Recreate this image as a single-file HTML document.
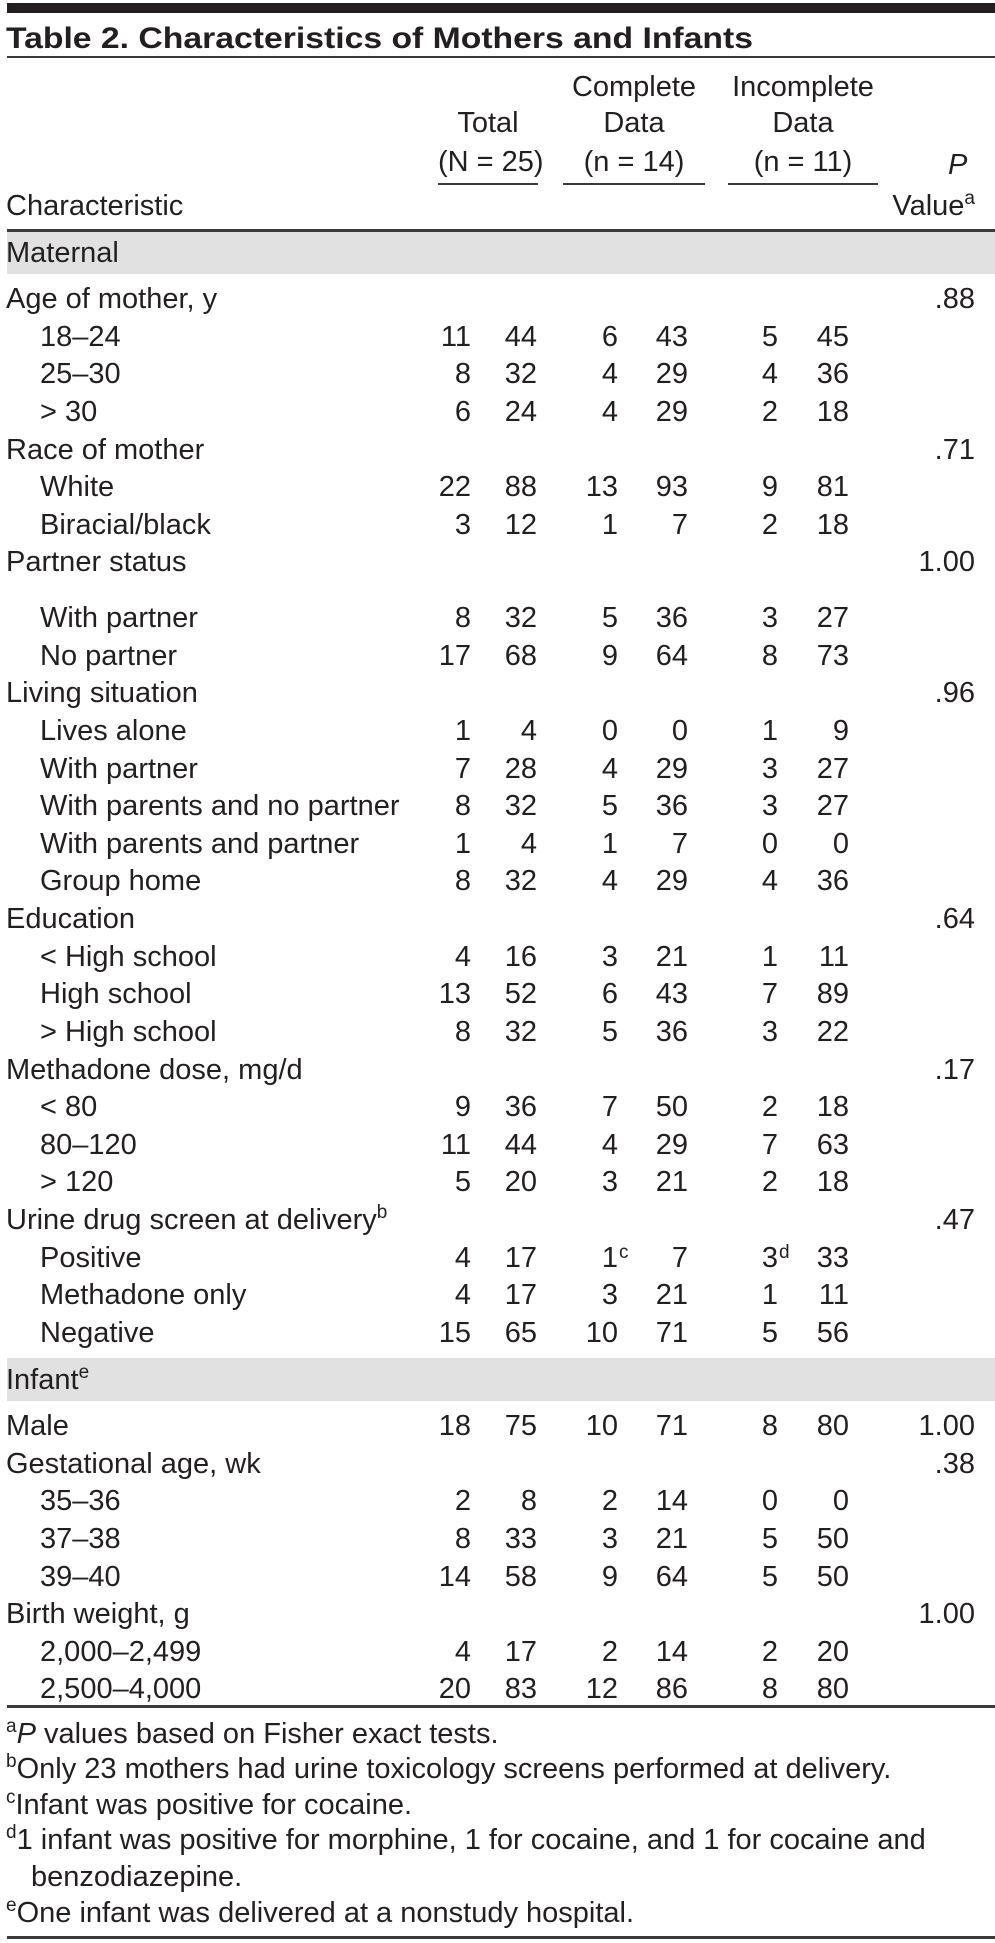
<!DOCTYPE html>
<html><head><meta charset="utf-8">
<style>
html,body{margin:0;padding:0;background:#fff;}
#page{position:relative;width:995px;height:1943px;overflow:hidden;background:#fff;font-family:"Liberation Sans",sans-serif;color:#231f20;}
.t{position:absolute;font-size:29px;line-height:30px;white-space:nowrap;}
.r{text-align:right;}
.c{text-align:center;}
.sup{font-size:19px;position:relative;top:-11px;}
.abssup{position:absolute;font-size:19px;line-height:19px;}
.rule{position:absolute;left:7px;width:988px;background:#3a3a3a;}
.band{position:absolute;left:7px;width:988px;background:#e1e1e1;}
</style></head>
<body>
<div id="page">
  <div class="rule" style="top:3px;height:10px;background:#231f20"></div>
  <div class="t" id="title" style="left:6px;top:22px;font-size:30px;line-height:34px;font-weight:bold;transform-origin:0 50%">Table 2. Characteristics of Mothers and Infants</div>
  <div class="rule" style="top:56px;height:2px"></div>

  <div class="t c" style="left:563px;width:142px;top:72px">Complete</div>
  <div class="t c" style="left:728px;width:150px;top:72px">Incomplete</div>
  <div class="t c" style="left:438px;width:100px;top:108px">Total</div>
  <div class="t c" style="left:563px;width:142px;top:108px">Data</div>
  <div class="t c" style="left:728px;width:150px;top:108px">Data</div>
  <div class="t c" style="left:438px;width:100px;top:147px">(N = 25)</div>
  <div class="t c" style="left:563px;width:142px;top:147px">(n = 14)</div>
  <div class="t c" style="left:728px;width:150px;top:147px">(n = 11)</div>
  <div class="t" style="left:948px;top:150px;font-style:italic">P</div>
  <div class="rule" style="left:438px;width:100px;top:183px;height:2px"></div>
  <div class="rule" style="left:563px;width:142px;top:183px;height:2px"></div>
  <div class="rule" style="left:728px;width:150px;top:183px;height:2px"></div>
  <div class="t" style="left:6px;top:191px">Characteristic</div>
  <div class="t r" style="left:0;width:975px;top:191px">Value<span class="sup">a</span></div>
  <div class="rule" style="top:229px;height:3px"></div>

  <div class="band" style="top:232px;height:42px"></div>
  <div class="band" style="top:1358px;height:43px"></div>
  <div class="t" style="left:6px;top:238px">Maternal</div>
  <div class="t" style="left:6px;top:1365px">Infant<span class="sup">e</span></div>

  <div id="rows"></div>

  <div class="rule" style="top:1705px;height:3px"></div>
  <div class="t" style="left:6px;top:1719px"><span class="sup">a</span><i>P</i> values based on Fisher exact tests.</div>
  <div class="t" style="left:6px;top:1754px"><span class="sup">b</span>Only 23 mothers had urine toxicology screens performed at delivery.</div>
  <div class="t" style="left:6px;top:1790px"><span class="sup">c</span>Infant was positive for cocaine.</div>
  <div class="t" style="left:6px;top:1825px"><span class="sup">d</span>1 infant was positive for morphine, 1 for cocaine, and 1 for cocaine and</div>
  <div class="t" style="left:31px;top:1862px">benzodiazepine.</div>
  <div class="t" style="left:6px;top:1898px"><span class="sup">e</span>One infant was delivered at a nonstudy hospital.</div>
  <div class="rule" style="top:1936px;height:3px"></div>
</div>
<script>
const rowLabels = ["Age of mother, y","18–24","25–30","> 30","Race of mother","White","Biracial/black","Partner status","With partner","No partner","Living situation","Lives alone","With partner","With parents and no partner","With parents and partner","Group home","Education","< High school","High school","> High school","Methadone dose, mg/d","< 80","80–120","> 120","Urine drug screen at delivery","Positive","Methadone only","Negative","Male","Gestational age, wk","35–36","37–38","39–40","Birth weight, g","2,000–2,499","2,500–4,000"];
const rowIndent = [0,1,1,1,0,1,1,0,1,1,0,1,1,1,1,1,0,1,1,1,0,1,1,1,0,1,1,1,0,0,1,1,1,0,1,1];
const totalN   = ["","11","8","6","","22","3","","8","17","","1","7","8","1","8","","4","13","8","","9","11","5","","4","4","15","18","","2","8","14","","4","20"];
const totalPct = ["","44","32","24","","88","12","","32","68","","4","28","32","4","32","","16","52","32","","36","44","20","","17","17","65","75","","8","33","58","","17","83"];
const compN    = ["","6","4","4","","13","1","","5","9","","0","4","5","1","4","","3","6","5","","7","4","3","","1","3","10","10","","2","3","9","","2","12"];
const compPct  = ["","43","29","29","","93","7","","36","64","","0","29","36","7","29","","21","43","36","","50","29","21","","7","21","71","71","","14","21","64","","14","86"];
const incN     = ["","5","4","2","","9","2","","3","8","","1","3","3","0","4","","1","7","3","","2","7","2","","3","1","5","8","","0","5","5","","2","8"];
const incPct   = ["","45","36","18","","81","18","","27","73","","9","27","27","0","36","","11","89","22","","18","63","18","","33","11","56","80","","0","50","50","","20","80"];
const pValues  = [".88","","","",".71","","","1.00","","",".96","","","","","",".64","","","",".17","","","",".47","","","","1.00",".38","","","","1.00","",""];
const labelSup = {24:"b"};
const compNSup = {25:"c"};
const incNSup  = {25:"d"};

const PITCH = 37.63;
function rowY(i){
  if(i<=7) return 299 + i*PITCH;
  if(i<=27) return 618 + (i-8)*PITCH;
  return 1426 + (i-28)*PITCH;
}
const colRight = {totalN:471,totalPct:537,compN:618,compPct:688,incN:778,incPct:849,p:975};
const rows = document.getElementById('rows');
function txt(str, y, right, name, sup){
  const d = document.createElement('div');
  d.className='t r';
  
  
  d.style.left='0px'; d.style.width=right+'px'; d.style.top=(y-15)+'px';
  d.textContent=str;
  rows.appendChild(d);
  if(sup){
    const s=document.createElement('div');
    s.className='abssup';
    
    
    s.style.left=(right+1)+'px'; s.style.top=(y-15)+'px';
    s.textContent=sup;
    rows.appendChild(s);
  }
}
rowLabels.forEach((lab,i)=>{
  const y=rowY(i);
  const d=document.createElement('div');
  d.className='t';
  
  
  d.style.left=(rowIndent[i]?40:6)+'px'; d.style.top=(y-15)+'px';
  d.textContent=lab;
  if(labelSup[i]){const s=document.createElement('span');s.className='sup';s.textContent=labelSup[i];d.appendChild(s);}
  rows.appendChild(d);
  if(totalN[i]) txt(totalN[i],y,colRight.totalN,'total-n-'+i);
  if(totalPct[i]) txt(totalPct[i],y,colRight.totalPct,'total-pct-'+i);
  if(compN[i]) txt(compN[i],y,colRight.compN,'complete-n-'+i,compNSup[i]);
  if(compPct[i]) txt(compPct[i],y,colRight.compPct,'complete-pct-'+i);
  if(incN[i]) txt(incN[i],y,colRight.incN,'incomplete-n-'+i,incNSup[i]);
  if(incPct[i]) txt(incPct[i],y,colRight.incPct,'incomplete-pct-'+i);
  if(pValues[i]) txt(pValues[i],y,colRight.p,'p-value-'+i);
});
const title=document.getElementById('title');
const w=title.getBoundingClientRect().width;
if(w>0) title.style.transform='scaleX('+(747/w)+')';
</script>
</body></html>
